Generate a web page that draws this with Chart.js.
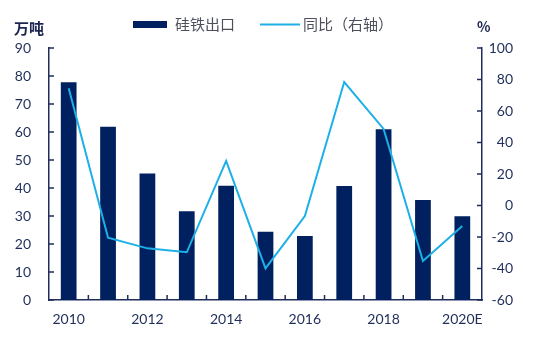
<!DOCTYPE html>
<html lang="zh">
<head>
<meta charset="UTF-8">
<script src="https://cdn.jsdelivr.net/npm/chart.js"></script>
<style>
  body { margin: 0; background: #fff; }
  #wrap { width: 533px; height: 338px; }
</style>
</head>
<body>
<div id="wrap"><canvas id="chart"></canvas></div>
<script>
// 硅铁出口量（万吨）和同比（%）
const years = ['2010', '2011', '2012', '2013', '2014', '2015', '2016', '2017', '2018', '2019', '2020E'];
const exportVol = [77.8, 61.9, 45.2, 31.7, 40.8, 24.4, 22.9, 40.7, 61.0, 35.7, 29.9];
const yoyPct = [74.4, -20.4, -27.2, -29.7, 28.3, -39.9, -6.7, 78.4, 48.6, -35.2, -13.0];

const navy = '#002060';
const axisColor = '#1f2d5a';
const lineBlue = '#1cb0e6';
const numFont = { family: 'Lato', size: 14 };

// legend, unit titles and inward tick marks
const frame = {
  id: 'frame',
  afterDraw(chart) {
    const { ctx, chartArea: a, scales } = chart;
    ctx.save();
    ctx.strokeStyle = axisColor;
    ctx.lineWidth = 1.5;
    ctx.beginPath();
    scales.y.ticks.forEach(t => {
      const y = scales.y.getPixelForValue(t.value);
      ctx.moveTo(a.left, y); ctx.lineTo(a.left + 5, y);
    });
    scales.y1.ticks.forEach(t => {
      const y = scales.y1.getPixelForValue(t.value);
      ctx.moveTo(a.right, y); ctx.lineTo(a.right - 5, y);
    });
    for (let i = 1; i < years.length; i++) {
      const x = (scales.x.getPixelForValue(i - 1) + scales.x.getPixelForValue(i)) / 2;
      ctx.moveTo(x, a.bottom); ctx.lineTo(x, a.bottom - 5);
    }
    ctx.stroke();

    // unit titles
    ctx.fillStyle = '#1a2550';
    ctx.textBaseline = 'middle';
    ctx.font = 'bold 15px "Noto Sans CJK SC"';
    ctx.textAlign = 'left';
    ctx.fillText('万吨', 14, 28);
    ctx.font = 'bold 14px "Noto Sans CJK SC"';
    ctx.fillText('%', 477, 27);

    // legend
    const ds = chart.data.datasets;
    ctx.font = '15px "Noto Sans CJK SC"';
    ctx.fillStyle = ds[0].backgroundColor;
    ctx.fillRect(133, 21, 34, 7);
    ctx.fillStyle = '#4d4f5c';
    ctx.fillText(ds[0].label, 175, 24.5);
    ctx.strokeStyle = ds[1].borderColor;
    ctx.lineWidth = 2;
    ctx.beginPath();
    ctx.moveTo(260, 24.5); ctx.lineTo(300, 24.5);
    ctx.stroke();
    ctx.fillStyle = '#4d4f5c';
    ctx.fillText(ds[1].label, 303, 24.5);
    ctx.restore();
  }
};

new Chart(document.getElementById('chart'), {
  data: {
    labels: years,
    datasets: [
      {
        type: 'bar',
        label: '硅铁出口',
        data: exportVol,
        backgroundColor: navy,
        yAxisID: 'y',
        categoryPercentage: 1,
        barPercentage: 0.4,
        order: 2
      },
      {
        type: 'line',
        label: '同比（右轴）',
        data: yoyPct,
        borderColor: lineBlue,
        borderWidth: 2,
        pointRadius: 0,
        tension: 0,
        yAxisID: 'y1',
        order: 1
      }
    ]
  },
  options: {
    responsive: true,
    maintainAspectRatio: false,
    animation: false,
    layout: { padding: { top: 48, right: 20, bottom: 0, left: 0 } },
    plugins: { legend: { display: false }, tooltip: { enabled: false } },
    scales: {
      x: {
        grid: { display: false, drawTicks: false },
        border: { color: axisColor, width: 1.5 },
        ticks: {
          color: axisColor, font: numFont, padding: 11,
          autoSkip: false, maxRotation: 0,
          callback: (v, i) => (i % 2 ? '' : years[i])
        },
        afterFit: s => { s.height = 38; }
      },
      y: {
        position: 'left',
        min: 0, max: 90,
        grid: { display: false, drawTicks: false },
        border: { color: axisColor, width: 1.5 },
        ticks: { stepSize: 10, color: axisColor, font: numFont, padding: 18 },
        afterFit: s => { s.width = 49; }
      },
      y1: {
        position: 'right',
        min: -60, max: 100,
        grid: { display: false, drawTicks: false },
        border: { color: axisColor, width: 1.5 },
        ticks: { stepSize: 20, color: axisColor, font: numFont, crossAlign: 'far' },
        afterFit: s => { s.width = 31; }
      }
    }
  },
  plugins: [frame]
});
</script>
</body>
</html>
